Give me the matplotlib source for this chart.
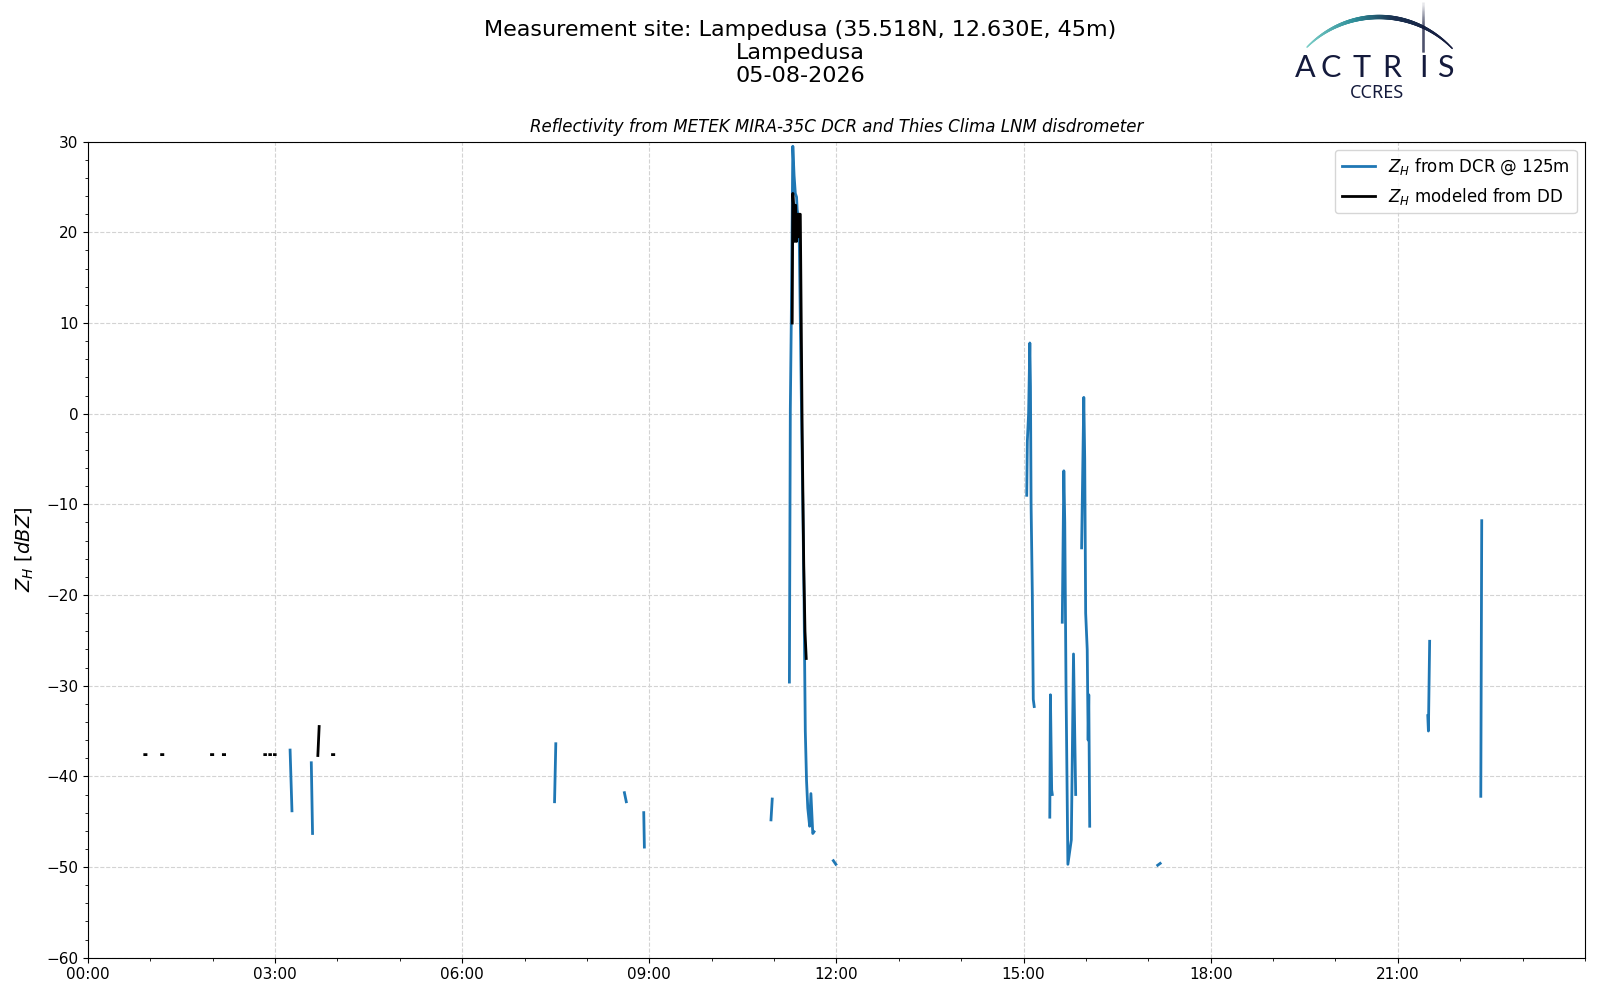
import numpy as np
import matplotlib
matplotlib.use("Agg")
import matplotlib.pyplot as plt
from matplotlib.ticker import MultipleLocator, FuncFormatter
from matplotlib.collections import LineCollection
from matplotlib.colors import LinearSegmentedColormap

nan = np.nan

# ── Data (time in decimal hours UTC, reflectivity in dBZ, nan = gap) ──────────
dcr_time = [3.24, 3.27, nan,
            3.58, 3.60, nan,
            7.48, 7.50, nan,
            8.60, 8.63, nan,
            8.91, 8.92, nan,
            10.95, 10.97, nan,
            11.245, 11.26, 11.275, 11.30, 11.32, 11.34, 11.36, 11.37, 11.40,
            11.43, 11.46, 11.48, 11.50, 11.52, 11.54, 11.57, 11.59, 11.62, 11.64, nan,
            11.95, 11.99, nan,
            15.05, 15.06, 15.08, 15.10, 15.11, 15.12, 15.14, 15.155, 15.17, nan,
            15.42, 15.43, 15.45, 15.46, nan,
            15.62, 15.645, 15.66, 15.68, 15.71, 15.765, 15.80, 15.835, nan,
            15.93, 15.965, 15.98, 15.995, 16.02, 16.035, 16.045, 16.06, nan,
            17.15, 17.19, nan,
            21.48, 21.49, 21.51, nan,
            22.33, 22.345]
dcr_zh = [-37.1, -43.8, nan,
          -38.5, -46.3, nan,
          -42.8, -36.4, nan,
          -41.8, -42.8, nan,
          -44.0, -47.8, nan,
          -44.8, -42.5, nan,
          -29.6, 0.5, 10.0, 29.5, 26.3, 24.3, 23.9, 22.5, 21.0,
          5.0, -10.0, -20.6, -35.0, -40.5, -43.5, -45.5, -41.9, -46.3, -46.1, nan,
          -49.3, -49.7, nan,
          -9.0, -3.0, 0.0, 7.8, 3.0, -10.0, -20.0, -31.5, -32.3, nan,
          -44.5, -31.0, -41.5, -42.0, nan,
          -23.0, -6.3, -12.0, -30.0, -49.7, -47.0, -26.5, -42.0, nan,
          -14.8, 1.8, -5.0, -22.0, -26.0, -36.0, -31.0, -45.5, nan,
          -49.8, -49.6, nan,
          -33.3, -35.0, -25.1, nan,
          -42.2, -11.8]

dd_time = [0.91, 0.93, nan,
           1.18, 1.20, nan,
           1.98, 2.00, nan,
           2.17, 2.19, nan,
           2.834, 2.846, nan,
           2.914, 2.926, nan,
           2.989, 3.001, nan,
           3.685, 3.706, nan,
           3.92, 3.94, nan,
           11.29, 11.30, 11.315, 11.33, 11.345, 11.36, 11.375, 11.385, 11.40, 11.42,
           11.435, 11.45, 11.46, 11.475, 11.495, 11.515]
dd_zh = [-37.6, -37.6, nan,
         -37.6, -37.6, nan,
         -37.6, -37.6, nan,
         -37.6, -37.6, nan,
         -37.6, -37.6, nan,
         -37.6, -37.6, nan,
         -37.6, -37.6, nan,
         -37.7, -34.5, nan,
         -37.6, -37.6, nan,
         10.0, 24.3, 22.5, 19.0, 23.0, 19.0, 22.0, 19.5, 22.0, 22.0,
         10.0, -2.0, -8.0, -16.5, -24.0, -27.0]

SITE = "Lampedusa"
LAT, LON, ALT = "35.518N", "12.630E", "45m"
DATE = "05-08-2026"

# ── Figure ────────────────────────────────────────────────────────────────────
fig = plt.figure(figsize=(16, 10), dpi=100, facecolor="white")
ax = fig.add_axes([0.055, 0.0423, 0.9356, 0.816])

ax.plot(dcr_time, dcr_zh, color="#1f77b4", lw=2, label="$Z_H$ from DCR @ 125m")
ax.plot(dd_time, dd_zh, color="black", lw=2, label="$Z_H$ modeled from DD")

ax.set_xlim(0, 24)
ax.set_ylim(-60, 30)
ax.set_xticks(np.arange(0, 22, 3))
ax.xaxis.set_minor_locator(MultipleLocator(1))
ax.xaxis.set_major_formatter(FuncFormatter(lambda x, p: f"{int(round(x)):02d}:00"))
ax.yaxis.set_major_locator(MultipleLocator(10))
ax.yaxis.set_minor_locator(MultipleLocator(2))
ax.tick_params(labelsize=11)
ax.grid(True, which="major", ls="--", color="#d3d3d3", lw=0.8)

ax.set_ylabel("$Z_H$ [$dBZ$]", fontsize=14, labelpad=7)
ax.set_title("Reflectivity from METEK MIRA-35C DCR and Thies Clima LNM disdrometer",
             fontsize=12, style="italic", pad=7)
ax.legend(loc="upper right", fontsize=12)

fig.text(0.5, 1 - 0.082,
         f"Measurement site: {SITE} ({LAT}, {LON}, {ALT})\n{SITE}\n{DATE}",
         ha="center", va="baseline", fontsize=16)

# ── Logo ACTRIS / CCRES (pixel coords, y downward) ──────────────────────────
lax = fig.add_axes([0, 0, 1, 1], zorder=5)
lax.set_xlim(0, 1600)
lax.set_ylim(1000, 0)
lax.axis("off")
lax.patch.set_alpha(0)

navy = "#141a3c"
cx, cy, r = 1379, 118.0, 101.0
ang = np.linspace(np.deg2rad(135.5), np.deg2rad(43.5), 200)
px = cx + r * np.cos(ang)
py = cy - r * np.sin(ang)
pts = np.column_stack([px, py]).reshape(-1, 1, 2)
segs = np.concatenate([pts[:-1], pts[1:]], axis=1)
u = np.linspace(0, 1, len(segs))
cmap = LinearSegmentedColormap.from_list(
    "arc", [(0, "#7ccfc8"), (0.35, "#2f8f9a"), (0.6, "#1a3050"), (1, navy)])
widths = 1.0 + 2.2 * np.sin(np.pi * u) ** 1.2
lax.add_collection(LineCollection(segs, colors=cmap(u), linewidths=widths,
                                  capstyle="round"))
vy = np.linspace(2, 52, 60)
vsegs = np.stack([np.column_stack([np.full(59, 1423.3), vy[:-1]]),
                  np.column_stack([np.full(59, 1423.3), vy[1:]])], axis=1)
valpha = np.clip((vy[:-1] - 2) / 25, 0.1, 1)
vcols = [(0.08, 0.1, 0.24, a) for a in valpha]
lax.add_collection(LineCollection(vsegs, colors=vcols, linewidths=1.8))

for letter, lx in zip("ACTRIS", [1305, 1331, 1362, 1392, 1423.3, 1445]):
    lax.text(lx, 68, letter, ha="center", va="center", fontsize=22,
             color=navy, family="Lato", fontweight="normal")
lax.text(1376.7, 93, "CCRES", ha="center", va="center", fontsize=13,
         color=navy, family="Noto Sans")

fig.savefig("out.png", dpi=100, facecolor="white")
